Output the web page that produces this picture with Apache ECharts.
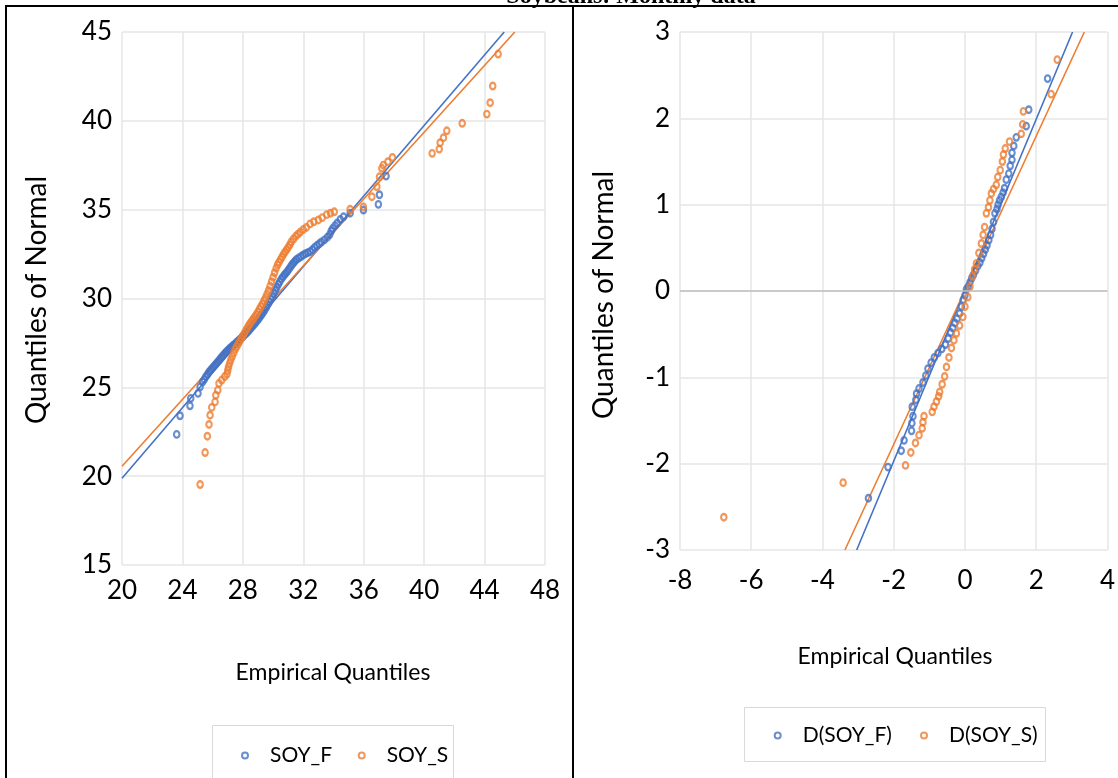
<!DOCTYPE html>
<html>
<head>
<meta charset="utf-8">
<script src="https://cdn.jsdelivr.net/npm/echarts@6/dist/echarts.min.js"></script>
<style>
  html, body { margin: 0; padding: 0; background: #fff; }
  #chart { width: 1118px; height: 778px; }
</style>
</head>
<body>
<div id="chart"></div>
<script>
// 颜色
const blue = '#4472C4';
const orange = '#ED7D31';
const gridColor = '#e6e6e6';

// 左图：SOY_F / SOY_S  [经验分位数, 正态分位数]
const soyF = [
  [23.62, 22.35], [23.84, 23.40], [24.50, 23.96], [24.55, 24.38], [25.03, 24.66], [25.17, 25.03], [25.34, 25.31],
  [25.45, 25.45], [25.55, 25.6], [25.65, 25.72], [25.75, 25.85], [25.85, 25.95], [25.95, 26.05], [26.05, 26.15],
  [26.15, 26.25], [26.25, 26.35], [26.35, 26.45], [26.45, 26.55], [26.55, 26.65], [26.65, 26.75], [26.75, 26.85],
  [26.85, 26.95], [26.95, 27.03], [27.05, 27.12], [27.15, 27.2], [27.25, 27.28], [27.35, 27.36], [27.45, 27.42],
  [27.55, 27.5], [27.65, 27.58], [27.75, 27.66], [27.85, 27.74], [27.95, 27.82], [28.05, 27.9], [28.15, 27.98],
  [28.25, 28.07], [28.35, 28.15], [28.45, 28.25], [28.55, 28.35], [28.65, 28.45], [28.75, 28.55], [28.85, 28.65],
  [28.95, 28.75], [29.05, 28.86], [29.15, 28.98], [29.25, 29.1], [29.35, 29.22], [29.45, 29.35], [29.55, 29.5],
  [29.65, 29.65], [29.75, 29.8], [29.85, 29.95], [29.95, 30.1], [30.05, 30.28], [30.15, 30.45], [30.25, 30.62],
  [30.35, 30.8], [30.45, 30.95], [30.55, 31.1], [30.65, 31.22], [30.75, 31.33], [30.85, 31.43], [30.95, 31.53],
  [31.05, 31.65], [31.15, 31.78], [31.25, 31.9], [31.35, 32.0], [31.45, 32.1], [31.55, 32.2], [31.7, 32.28],
  [31.85, 32.36], [32.0, 32.45], [32.15, 32.52], [32.3, 32.58], [32.45, 32.64], [32.6, 32.75], [32.75, 32.88],
  [32.9, 32.98], [33.05, 33.08], [33.2, 33.18], [33.4, 33.3], [33.6, 33.45], [33.75, 33.6], [33.85, 33.8],
  [33.95, 33.95], [34.1, 34.1], [34.25, 34.25], [34.45, 34.45], [34.66, 34.6], [35.1, 34.8], [35.98, 34.98],
  [36.97, 35.30], [37.04, 35.84], [37.48, 36.89]
];
const soyS = [
  [25.17, 19.53], [25.50, 21.33], [25.65, 22.25], [25.76, 22.91], [25.83, 23.43], [25.94, 23.87], [26.16, 24.18],
  [26.21, 24.56], [26.34, 24.84], [26.42, 25.22], [26.6, 25.41], [26.8, 25.6], [26.95, 25.75], [27.0, 25.95],
  [27.05, 26.15], [27.12, 26.35], [27.2, 26.55], [27.3, 26.75], [27.4, 26.95], [27.5, 27.15], [27.6, 27.3],
  [27.7, 27.45], [27.8, 27.6], [27.9, 27.75], [28.0, 27.9], [28.1, 28.05], [28.2, 28.2], [28.3, 28.35],
  [28.4, 28.5], [28.5, 28.62], [28.6, 28.74], [28.7, 28.86], [28.8, 28.98], [28.9, 29.1], [29.0, 29.25],
  [29.1, 29.4], [29.2, 29.55], [29.3, 29.7], [29.4, 29.88], [29.5, 30.05], [29.6, 30.25], [29.7, 30.45],
  [29.8, 30.7], [29.9, 30.95], [30.0, 31.2], [30.1, 31.45], [30.2, 31.7], [30.3, 31.9], [30.4, 32.05],
  [30.5, 32.2], [30.6, 32.35], [30.7, 32.5], [30.8, 32.62], [30.9, 32.75], [31.0, 32.88], [31.1, 33.02],
  [31.2, 33.18], [31.35, 33.35], [31.5, 33.5], [31.65, 33.62], [31.8, 33.74], [32.0, 33.88], [32.2, 34.0],
  [32.45, 34.2], [32.7, 34.32], [33.0, 34.42], [33.25, 34.55], [33.55, 34.72], [33.8, 34.8], [34.05, 34.88],
  [35.1, 35.02], [35.98, 35.16], [36.54, 35.73], [36.87, 36.29], [37.04, 36.85], [37.2, 37.33], [37.3, 37.51],
  [37.6, 37.7], [37.9, 37.94], [40.53, 38.17], [41.0, 38.41], [41.06, 38.77], [41.28, 39.05], [41.5, 39.44],
  [42.52, 39.86], [44.15, 40.38], [44.37, 41.02], [44.54, 41.96], [44.9, 43.76]
];
// 左图拟合线
const fitF = [[20, 19.88], [45.3, 45]];
const fitS = [[20, 20.56], [46.0, 45]];

// 右图：D(SOY_F) / D(SOY_S)
const dSoyF = [
  [-2.71, -2.40], [-2.16, -2.04], [-1.79, -1.85], [-1.71, -1.73], [-1.50, -1.62], [-1.49, -1.53], [-1.46, -1.45],
  [-1.48, -1.34], [-1.38, -1.26], [-1.36, -1.19], [-1.29, -1.13], [-1.18, -1.06], [-1.1, -0.98], [-1.04, -0.9],
  [-0.95, -0.83], [-0.86, -0.77], [-0.76, -0.72], [-0.65, -0.67], [-0.55, -0.62], [-0.47, -0.55], [-0.4, -0.48],
  [-0.34, -0.43], [-0.28, -0.37], [-0.22, -0.32], [-0.15, -0.26], [-0.1, -0.18], [-0.05, -0.1], [0.0, -0.05],
  [0.04, 0.02], [0.09, 0.05], [0.14, 0.1], [0.19, 0.15], [0.24, 0.19], [0.3, 0.24], [0.36, 0.29], [0.42, 0.33],
  [0.47, 0.38], [0.52, 0.43], [0.57, 0.48], [0.62, 0.53], [0.67, 0.59], [0.72, 0.65], [0.76, 0.72], [0.8, 0.8],
  [0.84, 0.9], [0.9, 0.95], [0.93, 1.0], [0.97, 1.05], [1.02, 1.09], [1.07, 1.14], [1.11, 1.19], [1.16, 1.29],
  [1.23, 1.36], [1.27, 1.45], [1.32, 1.52], [1.32, 1.60], [1.37, 1.68], [1.44, 1.78], [1.72, 1.91], [1.79, 2.10],
  [2.32, 2.46]
];
const dSoyS = [
  [-6.77, -2.62], [-3.42, -2.22], [-1.67, -2.02], [-1.52, -1.87], [-1.39, -1.76], [-1.29, -1.67], [-1.20, -1.59],
  [-1.18, -1.52], [-1.15, -1.45], [-0.92, -1.40], [-0.87, -1.34], [-0.80, -1.28], [-0.74, -1.22], [-0.71, -1.17],
  [-0.64, -1.08], [-0.57, -0.99], [-0.52, -0.88], [-0.45, -0.77], [-0.38, -0.66], [-0.31, -0.57], [-0.24, -0.49],
  [-0.15, -0.4], [-0.06, -0.30], [0.0, -0.18], [0.08, -0.07], [0.14, 0.05], [0.21, 0.17], [0.27, 0.25],
  [0.32, 0.32], [0.39, 0.44], [0.46, 0.55], [0.51, 0.65], [0.55, 0.74], [0.60, 0.9], [0.66, 0.97], [0.70, 1.05],
  [0.74, 1.13], [0.8, 1.18], [0.88, 1.23], [0.92, 1.32], [0.99, 1.40], [1.05, 1.50], [1.08, 1.58], [1.13, 1.65],
  [1.25, 1.73], [1.58, 1.82], [1.62, 1.93], [1.64, 2.08], [2.42, 2.28], [2.59, 2.68]
];
const fitDF = [[-3.04, -3], [3.02, 3]];
const fitDS = [[-3.37, -3], [3.35, 3]];

const baseFont = 'Lato';
const labelStyle = { fontFamily: baseFont, fontSize: 26, color: '#000' };

const chart = echarts.init(document.getElementById('chart'));

const pointSeries = (name, data, color, idx) => ({
  name: name,
  type: 'scatter',
  xAxisIndex: idx,
  yAxisIndex: idx,
  data: data,
  symbol: 'circle',
  symbolSize: [5.5, 6.5],
  itemStyle: { color: 'transparent', borderColor: color, borderWidth: 2.2 },
  z: 3
});
const fitSeries = (name, data, color, idx) => ({
  name: name,
  type: 'line',
  xAxisIndex: idx,
  yAxisIndex: idx,
  data: data,
  showSymbol: false,
  symbol: 'none',
  lineStyle: { color: color, width: 1.6 },
  z: 2
});
const legendItem = (name, color, left, top) => ({
  left: left,
  top: top,
  itemWidth: 6,
  itemHeight: 6,
  textStyle: { fontFamily: baseFont, fontSize: 21, color: '#000', padding: [0, 0, 0, 17] },
  data: [{ name: name, icon: 'circle', itemStyle: { color: '#fff', borderColor: color, borderWidth: 2 } }]
});

const option = {
  animation: false,
  grid: [
    { left: 122, top: 32, width: 423, height: 533 },
    { left: 680, top: 32, width: 428, height: 518 }
  ],
  xAxis: [
    {
      gridIndex: 0, type: 'value', min: 20, max: 48, interval: 4,
      axisLine: { show: false }, axisTick: { show: false },
      splitLine: { lineStyle: { color: gridColor, width: 1.5 } },
      axisLabel: Object.assign({ margin: 13 }, labelStyle)
    },
    {
      gridIndex: 1, type: 'value', min: -8, max: 4, interval: 2,
      axisLine: { show: false }, axisTick: { show: false },
      splitLine: { lineStyle: { color: gridColor, width: 1.5 } },
      axisLabel: Object.assign({ margin: 18 }, labelStyle)
    }
  ],
  yAxis: [
    {
      gridIndex: 0, type: 'value', min: 15, max: 45, interval: 5,
      axisLine: { show: false }, axisTick: { show: false },
      splitLine: { lineStyle: { color: gridColor, width: 1.5 } },
      axisLabel: Object.assign({ margin: 10 }, labelStyle)
    },
    {
      gridIndex: 1, type: 'value', min: -3, max: 3, interval: 1,
      axisLine: { show: false }, axisTick: { show: false },
      splitLine: { lineStyle: { color: gridColor, width: 1.5 } },
      axisLabel: Object.assign({ margin: 10 }, labelStyle)
    }
  ],
  legend: [
    legendItem('SOY_F', blue, 236, 740),
    legendItem('SOY_S', orange, 352.7, 740),
    legendItem('D(SOY_F)', blue, 768.7, 720),
    legendItem('D(SOY_S)', orange, 915, 720)
  ],
  series: [
    fitSeries('fitF', fitF, blue, 0),
    fitSeries('fitS', fitS, orange, 0),
    pointSeries('SOY_F', soyF, blue, 0),
    pointSeries('SOY_S', soyS, orange, 0),
    Object.assign(fitSeries('fitDF', fitDF, blue, 1), {
      markLine: {
        silent: true, symbol: 'none', label: { show: false },
        lineStyle: { color: '#bfbfbf', width: 1.5, type: 'solid' },
        data: [{ yAxis: 0 }]
      }
    }),
    fitSeries('fitDS', fitDS, orange, 1),
    pointSeries('D(SOY_F)', dSoyF, blue, 1),
    pointSeries('D(SOY_S)', dSoyS, orange, 1)
  ],
  graphic: [
    { type: 'text', x: 631, y: -3, z: 10,
      style: { text: 'Soybeans: Monthly data', font: 'bold 24px "Liberation Serif"', fill: '#000',
        align: 'center', verticalAlign: 'middle', textAlign: 'center', textVerticalAlign: 'middle' } },
    { type: 'rect', z: 11, shape: { x: 5, y: 5, width: 1113, height: 2 }, style: { fill: '#000' } },
    { type: 'rect', z: 11, shape: { x: 5, y: 5, width: 2, height: 773 }, style: { fill: '#000' } },
    { type: 'rect', z: 11, shape: { x: 572, y: 5, width: 2, height: 773 }, style: { fill: '#000' } },
    { type: 'text', x: 333, y: 673,
      style: { text: 'Empirical Quantiles', font: '23px Lato', fill: '#000',
        align: 'center', verticalAlign: 'middle', textAlign: 'center', textVerticalAlign: 'middle' } },
    { type: 'text', x: 895, y: 657,
      style: { text: 'Empirical Quantiles', font: '23px Lato', fill: '#000',
        align: 'center', verticalAlign: 'middle', textAlign: 'center', textVerticalAlign: 'middle' } },
    { type: 'text', x: 37, y: 300, rotation: Math.PI / 2,
      style: { text: 'Quantiles of Normal', font: '28px Lato', fill: '#000',
        align: 'center', verticalAlign: 'middle', textAlign: 'center', textVerticalAlign: 'middle' } },
    { type: 'text', x: 604, y: 295, rotation: Math.PI / 2,
      style: { text: 'Quantiles of Normal', font: '28px Lato', fill: '#000',
        align: 'center', verticalAlign: 'middle', textAlign: 'center', textVerticalAlign: 'middle' } },
    { type: 'rect', shape: { x: 212.5, y: 725.5, width: 241, height: 60 },
      style: { fill: 'none', stroke: '#d9d9d9', lineWidth: 1 } },
    { type: 'rect', shape: { x: 744.5, y: 707.5, width: 301, height: 54 },
      style: { fill: 'none', stroke: '#d9d9d9', lineWidth: 1 } }
  ]
};

chart.setOption(option);
window.addEventListener('resize', () => chart.resize());
</script>
</body>
</html>
